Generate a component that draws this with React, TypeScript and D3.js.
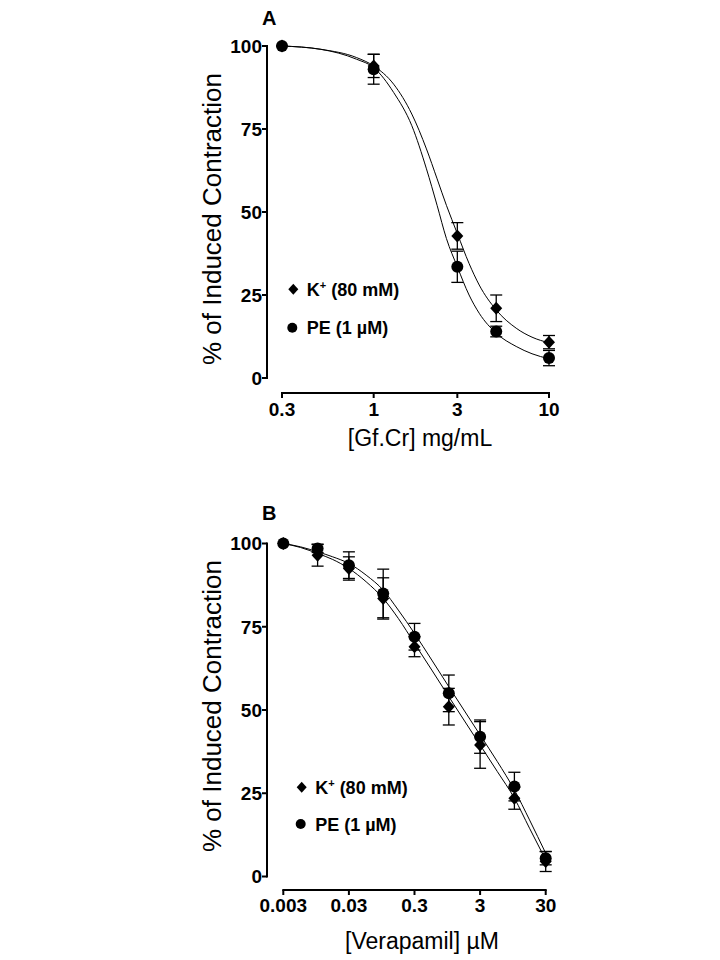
import React from 'react';
import * as d3 from 'd3';

// ---------- Panel A data: [Gf.Cr] mg/mL ----------
const doseA = [0.3, 1, 3, 5, 10];
const peA = [100, 93, 33.5, 14, 6];
const peAErr = [0, 4.5, 4.7, 1.6, 2.3];
const kA = [100, 94, 42.8, 21, 10.8];
const kAErr = [0, 3.5, 4, 4, 2];
const fitXA = [0.3, 0.5, 0.8, 1, 1.3, 1.65, 2, 2.3, 2.6, 3, 3.5, 4, 5, 6.5, 8, 10];
const fitPEA = [100, 99, 96, 93.5, 86, 76, 63, 52, 42, 33.5, 25, 19.5, 13.5, 9.5, 7.3, 5.8];
const fitKA = [100, 99, 96.5, 94, 88.5, 79.5, 69, 60, 52, 43.5, 34.5, 28, 20.5, 15, 12.3, 10.6];
const xTicksA = [0.3, 1, 3, 10];
const xTickLabelsA = ['0.3', '1', '3', '10'];

// ---------- Panel B data: [Verapamil] µM ----------
const doseB = [0.003, 0.01, 0.03, 0.1, 0.3, 1, 3, 10, 30];
const peB = [100, 98.5, 93.5, 85, 72, 55, 42, 27, 5.5];
const peBErr = [0, 1.2, 4, 7.3, 4, 5.5, 5, 4.3, 2];
const kB = [100, 96.5, 92.5, 83.5, 69, 51, 39.5, 23.5, 4.5];
const kBErr = [0, 3.3, 3.5, 6.2, 3, 5.5, 7, 3.3, 3];
const fitXB = [0.003, 0.0055, 0.01, 0.017, 0.03, 0.055, 0.1, 0.17, 0.3, 0.55, 1, 1.7, 3, 5.5, 10, 17, 30];
const fitPEB = [100, 99, 97.5, 96, 94, 90.5, 86, 80, 73, 65, 57, 50, 42.5, 34.5, 26, 17, 7];
const fitKB = [100, 98.8, 97, 95.2, 92.5, 88.5, 83.5, 77.5, 70, 62, 54, 47, 39.5, 31.5, 23.5, 14.5, 5];
const xTicksB = [0.003, 0.03, 0.3, 3, 30];
const xTickLabelsB = ['0.003', '0.03', '0.3', '3', '30'];

const yTicks = [0, 25, 50, 75, 100];
const yTickLabels = ['0', '25', '50', '75', '100'];
const seriesNames = ['K', 'PE (1 µM)'];

const FONT = '"Liberation Sans", Arial, Helvetica, sans-serif';

function diamondPath(cx: number, cy: number, hw: number, hh: number) {
  return `M${cx},${cy - hh}L${cx + hw},${cy}L${cx},${cy + hh}L${cx - hw},${cy}Z`;
}

type PanelProps = {
  letter: string;
  letterY: number;
  doses: number[];
  pe: number[];
  peErr: number[];
  k: number[];
  kErr: number[];
  fitX: number[];
  fitPE: number[];
  fitK: number[];
  xDomain: [number, number];
  xRange: [number, number];
  yTop: number;
  yBottom: number;
  yAxisX: number;
  xAxisY: number;
  xTicks: number[];
  xTickLabels: string[];
  tickLabelY: number;
  xTitle: React.ReactNode;
  xTitleX: number;
  xTitleY: number;
  yTitleY: number;
  legendX: number;
  legendY1: number;
  legendY2: number;
};

function Panel(p: PanelProps) {
  const x = d3.scaleLog().domain(p.xDomain).range(p.xRange);
  const y = d3.scaleLinear().domain([0, 100]).range([p.yBottom, p.yTop]);
  const line = d3
    .line<[number, number]>()
    .x((d) => x(d[0]))
    .y((d) => y(d[1]))
    .curve(d3.curveMonotoneX);
  const pePts = p.fitX.map((v, i) => [v, p.fitPE[i]] as [number, number]);
  const kPts = p.fitX.map((v, i) => [v, p.fitK[i]] as [number, number]);
  const capW = 6;

  const errBars = (vals: number[], errs: number[], key: string) =>
    p.doses.map((d, i) => {
      if (!errs[i]) return null;
      const cx = x(d);
      const y1 = y(vals[i] + errs[i]);
      const y2 = y(vals[i] - errs[i]);
      return (
        <g key={key + i} stroke="#000" strokeWidth={1.3}>
          <line x1={cx} x2={cx} y1={y1} y2={y2} />
          <line x1={cx - capW} x2={cx + capW} y1={y1} y2={y1} />
          <line x1={cx - capW} x2={cx + capW} y1={y2} y2={y2} />
        </g>
      );
    });

  return (
    <g fontFamily={FONT}>
      <text x={262} y={p.letterY} fontSize={20} fontWeight="bold">
        {p.letter}
      </text>
      {/* y axis */}
      <line x1={p.yAxisX} x2={p.yAxisX} y1={y(100) - 1} y2={y(0) + 1} stroke="#000" strokeWidth={2} />
      {yTicks.map((t, i) => (
        <g key={'yt' + i}>
          <line x1={p.yAxisX - 5} x2={p.yAxisX} y1={y(t)} y2={y(t)} stroke="#000" strokeWidth={2} />
          <text x={p.yAxisX - 5} y={y(t) + 6.8} fontSize={19} fontWeight="bold" textAnchor="end">
            {yTickLabels[i]}
          </text>
        </g>
      ))}
      <text
        transform={`translate(221,${p.yTitleY}) rotate(-90)`}
        fontSize={26}
        textAnchor="middle"
      >
        % of Induced Contraction
      </text>
      {/* x axis */}
      <line x1={p.xRange[0] - 1} x2={p.xRange[1] + 1} y1={p.xAxisY} y2={p.xAxisY} stroke="#000" strokeWidth={2} />
      {p.xTicks.map((t, i) => (
        <g key={'xt' + i}>
          <line x1={x(t)} x2={x(t)} y1={p.xAxisY} y2={p.xAxisY + 5} stroke="#000" strokeWidth={2} />
          <text x={x(t)} y={p.tickLabelY} fontSize={19} fontWeight="bold" textAnchor="middle">
            {p.xTickLabels[i]}
          </text>
        </g>
      ))}
      <text x={p.xTitleX} y={p.xTitleY} fontSize={23} textAnchor="middle">
        {p.xTitle}
      </text>
      {/* fitted curves */}
      <path d={line(kPts) || ''} fill="none" stroke="#000" strokeWidth={1} />
      <path d={line(pePts) || ''} fill="none" stroke="#000" strokeWidth={1} />
      {/* error bars */}
      {errBars(p.k, p.kErr, 'ke')}
      {errBars(p.pe, p.peErr, 'pe')}
      {/* markers */}
      {p.doses.map((d, i) => (
        <path key={'kd' + i} d={diamondPath(x(d), y(p.k[i]), 6, 6.5)} fill="#000" />
      ))}
      {p.doses.map((d, i) => (
        <circle key={'pc' + i} cx={x(d)} cy={y(p.pe[i])} r={6} fill="#000" />
      ))}
      {/* legend */}
      <path d={diamondPath(p.legendX, p.legendY1, 5, 5.5)} fill="#000" />
      <text x={p.legendX + 13.5} y={p.legendY1 + 6.5} fontSize={18} fontWeight="bold" style={{ whiteSpace: 'pre' }}>
        <tspan>{seriesNames[0]}</tspan>
        <tspan dy={-7} fontSize={11}>+</tspan>
        <tspan dy={7}> (80 mM)</tspan>
      </text>
      <circle cx={p.legendX - 1} cy={p.legendY2} r={5} fill="#000" />
      <text x={p.legendX + 13.5} y={p.legendY2 + 6.5} fontSize={18} fontWeight="bold">
        {seriesNames[1]}
      </text>
    </g>
  );
}

export default function App() {
  return (
    <svg
      width={720}
      height={960}
      viewBox="0 0 720 960"
      style={{ position: 'absolute', left: 0, top: 0, background: '#fff' }}
    >
      <rect x={0} y={0} width={720} height={960} fill="#fff" />
      <Panel
        letter="A"
        letterY={25}
        doses={doseA}
        pe={peA}
        peErr={peAErr}
        k={kA}
        kErr={kAErr}
        fitX={fitXA}
        fitPE={fitPEA}
        fitK={fitKA}
        xDomain={[0.3, 10]}
        xRange={[282, 549]}
        yTop={46}
        yBottom={378}
        yAxisX={267}
        xAxisY={393}
        xTicks={xTicksA}
        xTickLabels={xTickLabelsA}
        tickLabelY={416}
        xTitle="[Gf.Cr] mg/mL"
        xTitleX={420}
        xTitleY={446}
        yTitleY={219}
        legendX={293.3}
        legendY1={289.3}
        legendY2={327.7}
      />
      <Panel
        letter="B"
        letterY={520}
        doses={doseB}
        pe={peB}
        peErr={peBErr}
        k={kB}
        kErr={kBErr}
        fitX={fitXB}
        fitPE={fitPEB}
        fitK={fitKB}
        xDomain={[0.003, 30]}
        xRange={[283.3, 545.7]}
        yTop={543.5}
        yBottom={876.5}
        yAxisX={267}
        xAxisY={890}
        xTicks={xTicksB}
        xTickLabels={xTickLabelsB}
        tickLabelY={912}
        xTitle="[Verapamil] µM"
        xTitleX={422}
        xTitleY={949}
        yTitleY={706}
        legendX={301.7}
        legendY1={787.3}
        legendY2={824}
      />
    </svg>
  );
}
